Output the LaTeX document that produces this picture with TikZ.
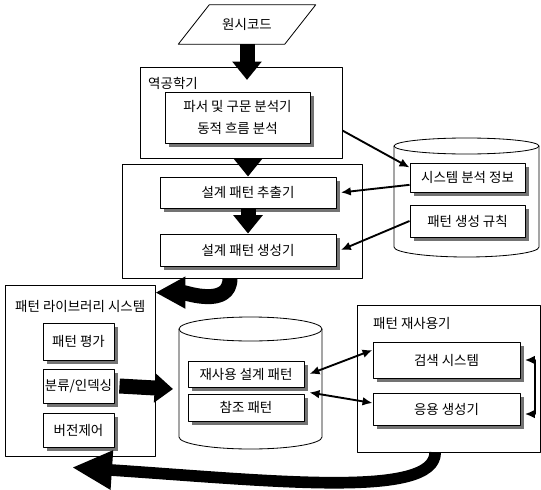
\documentclass[tikz,border=0pt]{standalone}
\usepackage{fontspec}
\setmainfont{Noto Sans CJK KR}
\usetikzlibrary{arrows.meta,shadows}
\begin{document}
\begin{tikzpicture}[x=0.3mm, y=-0.3mm, line join=round, >={Latex[length=3mm,width=2.6mm]}]
	\tikzset{sz/.style 2 args={minimum width=#1*0.3mm, minimum height=#2*0.3mm},
		every node/.style={font=\fontsize{11.5}{13}\selectfont, inner sep=0pt},
		outer box/.style={draw, line width=0.7pt},
		inner box/.style={draw, line width=0.8pt, fill=white, drop shadow={shadow xshift=1.3mm, shadow yshift=-1.3mm, fill=black!55, opacity=1}},
		fat arrow/.style={line width=4.5mm, -{Triangle[length=5.5mm, width=8.5mm]}},
		thin arrow/.style={line width=1.6pt, ->}}
	\useasboundingbox (0,0) rectangle (541,489);
	% source code
	\node[sz={106}{39}] (src) at (247,24.5) {원시코드};
	\draw[line width=0.7pt] ([xshift=-4.65mm]src.south west) -- ([xshift=-4.65mm]src.south east) -- ([xshift=4.65mm]src.north east) -- ([xshift=4.65mm]src.north west) -- cycle;
	% outer boxes
	\node[outer box, sz={202}{91}] (rev) at (241,112.5) {};
	\node[anchor=west] at (148,83) {역공학기};
	\node[outer box, sz={240}{114}] (ext) at (242,221) {};
	\node[outer box, sz={150}{171}] (lib) at (80,370.5) {};
	\node[anchor=west] at (15,306) {패턴 라이브러리 시스템};
	\node[outer box, sz={183}{147}] (user) at (448.5,378.5) {};
	\node[anchor=west] at (373,323) {패턴 재사용기};
	% cylinders
	\draw[line width=0.7pt] (394,146) -- (394,247) arc[start angle=180, end angle=360, x radius=21.75mm, y radius=3mm] -- (539,146);
	\draw[line width=0.7pt] (466.5,146) ellipse [x radius=21.75mm, y radius=2.4mm];
	\draw[line width=0.7pt] (179,329) -- (179,437) arc[start angle=180, end angle=360, x radius=21.45mm, y radius=3.6mm] -- (322,329);
	\draw[line width=0.7pt] (250.5,329) ellipse [x radius=21.45mm, y radius=3.6mm];
	\coordinate (dbw) at (173,389);
	% inner boxes
	\node[inner box, sz={145}{51}, align=center] (parse) at (237.5,117.5) {파서 및 구문 분석기\\[2mm]동적 흐름 분석};
	\node[inner box, sz={176}{31}] (extract) at (248,192.5) {설계 패턴 추출기};
	\node[inner box, sz={176}{32}] (gen) at (248,250) {설계 패턴 생성기};
	\node[inner box, sz={115}{29}] (sysinfo) at (467.5,177.5) {시스템 분석 정보};
	\node[inner box, sz={115}{32}] (rule) at (467.5,221) {패턴 생성 규칙};
	\node[inner box, sz={71}{37}] (eval) at (78.5,341.5) {패턴 평가};
	\node[inner box, sz={71}{34}] (index) at (78.5,386) {분류/인덱싱};
	\node[inner box, sz={71}{34}] (ver) at (78.5,430) {버전제어};
	\node[inner box, sz={116}{26}] (reuse) at (246,374) {재사용 설계 패턴};
	\node[inner box, sz={116}{27}] (ref) at (246,407.5) {참조 패턴};
	\node[inner box, sz={147}{36}] (search) at (446.5,360) {검색 시스템};
	\node[inner box, sz={147}{32}] (app) at (446.5,409) {응용 생성기};
	% flow
	\draw[fat arrow] (src.south) -- ([yshift=-4mm]src.south |- rev.north);
	\draw[fat arrow] (extract.north |- rev.south) -- (extract.north);
	\draw[fat arrow] (extract.south) -- (gen.north);
	\draw[fat arrow, -{Triangle[length=9mm, width=9mm]}] ([xshift=-3.6mm]ext.south) to[out=-90, in=0] ([yshift=-2.4mm]lib.north east);
	\draw[fat arrow] ([xshift=1.5mm]index.east) -- (dbw);
	\draw[line width=3.5mm, -{Triangle[length=12mm, width=11mm]}] ([xshift=-4mm]user.south) .. controls +(0,-14mm) and +(60mm,-4mm) .. ([xshift=-2.4mm, yshift=-3.3mm]lib.south);
	\draw[thin arrow] ([yshift=-5.4mm]rev.east) -- ([yshift=3mm]sysinfo.west);
	\draw[thin arrow] ([yshift=-2.2mm]sysinfo.west) -- ([xshift=1.3mm]extract.east);
	\draw[thin arrow] (rule.west) -- ([xshift=1.3mm]gen.east);
	\draw[thin arrow, <->] ([xshift=1.5mm]reuse.east) -- ([yshift=3mm]search.west);
	\draw[thin arrow, <->] ([xshift=1.5mm, yshift=-1.5mm]reuse.south east) -- ([yshift=1.8mm]app.west);
	\draw[thin arrow, <->] ([xshift=1.3mm]search.east) -- ++(3mm,0) |- ([xshift=1.3mm, yshift=-1.5mm]app.east);
\end{tikzpicture}
\end{document}
